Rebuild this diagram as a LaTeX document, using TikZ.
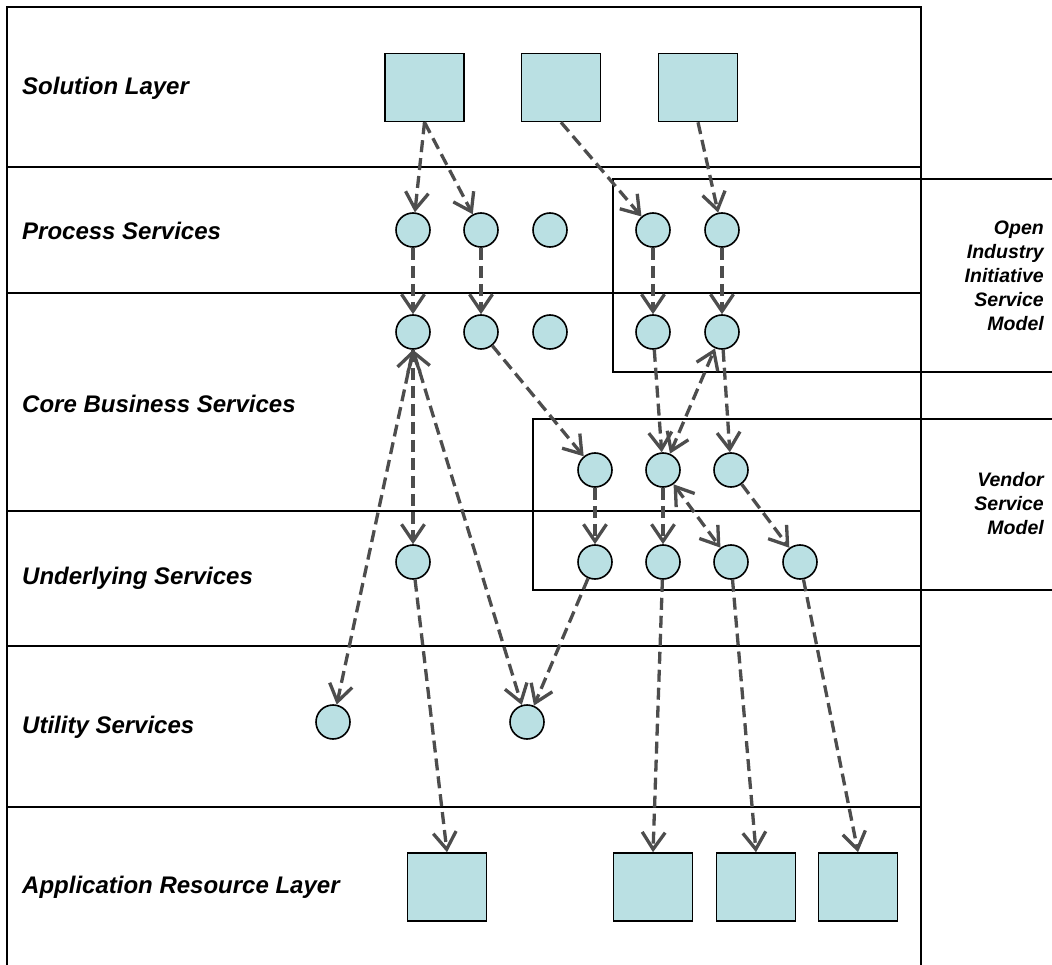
\documentclass[tikz,border=0pt]{standalone}
\usepackage{fontspec}
\setmainfont{Liberation Sans}
\usetikzlibrary{arrows.meta}
\definecolor{nodefill}{HTML}{BAE0E3}
\definecolor{arrowgray}{HTML}{4D4D4D}
\begin{document}
\begin{tikzpicture}[x=1pt,y=-1pt,
 svc/.style={circle,draw=black,line width=1.6pt,fill=nodefill,minimum size=34pt,inner sep=0pt},
 blk/.style={rectangle,draw=black,line width=1.6pt,fill=nodefill,minimum width=79pt,minimum height=68pt,inner sep=0pt},
 frame/.style={draw=black,line width=1.6pt},
 flow/.style={draw=arrowgray,line width=3.3pt,dash pattern=on 12pt off 6pt,-{Straight Barb[length=17pt,width=23pt]}},
 both/.style={draw=arrowgray,line width=3.3pt,dash pattern=on 12pt off 6pt,{Straight Barb[length=17pt,width=23pt]}-{Straight Barb[length=17pt,width=23pt]}},
 lbl/.style={font=\bfseries\itshape\fontsize{24}{28}\selectfont,inner sep=0pt},
 side/.style={font=\bfseries\itshape\fontsize{19.5}{24}\selectfont,inner sep=0pt,align=right,anchor=east}]
\useasboundingbox (0,0) rectangle (1052,965);
% frame and layer lines
\draw[frame] (7,965) -- (7,7) -- (921,7) -- (921,965);
\foreach \yy in {167,293,511,646,807} \draw[frame] (7,\yy) -- (921,\yy);
\draw[frame] (1052,179) -- (613,179) -- (613,372) -- (1052,372);
\draw[frame] (1052,419) -- (533,419) -- (533,590) -- (1052,590);
% labels
\node[lbl,anchor=west] (l1) at (22,88) {Solution Layer};
\node[lbl,anchor=west] (l2) at (22,231) {Process Services};
\node[lbl,anchor=west] (l3) at (22,404) {Core Business Services};
\node[lbl,anchor=west] (l4) at (22,578) {Underlying Services};
\node[lbl,anchor=west] (l5) at (22,727) {Utility Services};
\node[lbl,anchor=west] (l6) at (22,887) {Application Resource Layer};
\node[side] (r1) at (1044,276) {Open\\Industry\\Initiative\\Service\\Model};
\node[side] (r2) at (1044,504) {Vendor\\Service\\Model};
% solution boxes
\node[blk] (s1) at (424.5,87.5) {};
\node[blk] (s2) at (561,87.5) {};
\node[blk] (s3) at (698,87.5) {};
% process
\node[svc] (p1) at (413,230) {};
\node[svc] (p2) at (481,230) {};
\node[svc] (p3) at (550,230) {};
\node[svc] (p4) at (653,230) {};
\node[svc] (p5) at (722,230) {};
% core
\node[svc] (c1) at (413,332) {};
\node[svc] (c2) at (481,332) {};
\node[svc] (c3) at (550,332) {};
\node[svc] (c4) at (653,332) {};
\node[svc] (c5) at (722,332) {};
% vendor row
\node[svc] (v1) at (595,470) {};
\node[svc] (v2) at (663,470) {};
\node[svc] (v3) at (731,470) {};
% underlying
\node[svc] (u1) at (413,562) {};
\node[svc] (w1) at (595,562) {};
\node[svc] (w2) at (663,562) {};
\node[svc] (w3) at (731,562) {};
\node[svc] (w4) at (800,562) {};
% utility
\node[svc] (t1) at (333,722) {};
\node[svc] (t2) at (527,722) {};
% application resources
\node[blk] (ra) at (447,887) {};
\node[blk] (rb) at (653,887) {};
\node[blk] (rc) at (756,887) {};
\node[blk] (rd) at (858,887) {};
% connectors
\draw[flow] (s1.south) -- (p1);
\draw[flow] (s1.south) -- (p2);
\draw[flow] (s2.south) -- (p4);
\draw[flow] (s3.south) -- (p5);
\draw[flow] (p1) -- (c1);
\draw[flow] (p2) -- (c2);
\draw[flow] (p4) -- (c4);
\draw[flow] (p5) -- (c5);
\draw[flow] (c1.south) -- (u1);
\draw[both] (c1.south) -- (t1);
\draw[both] (c1.south) -- (t2);
\draw[flow] (c2) -- (v1);
\draw[flow] (c4) -- (v2);
\draw[both] (v2) -- (c5);
\draw[flow] (c5) -- (v3);
\draw[flow] (v1) -- (w1);
\draw[flow] (v2) -- (w2);
\draw[both] (v2) -- (w3);
\draw[flow] (v3) -- (w4);
\draw[flow] (w1) -- (t2);
\draw[flow] (u1) -- (ra.north);
\draw[flow] (w2) -- (rb.north);
\draw[flow] (w3) -- (rc.north);
\draw[flow] (w4) -- (rd.north);
\end{tikzpicture}
\end{document}
